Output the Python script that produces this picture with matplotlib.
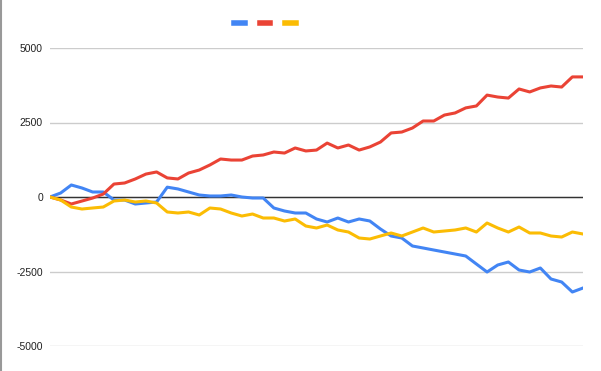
import numpy as np
import matplotlib.pyplot as plt
from matplotlib.lines import Line2D

# valores (paseos aleatorios, un punto cada ~20 pasos)
azul = [0, 134, 403, 302, 168, 168, -101, -101, -235, -201, -168, 330, 270, 168, 67, 34,
        34, 67, 0, -34, -34, -369, -470, -537, -537, -738, -839, -705, -839, -738, -805,
        -1074, -1309, -1376, -1644, -1711, -1779, -1846, -1913, -1980, -2249, -2517, -2282,
        -2181, -2450, -2517, -2383, -2752, -2853, -3188, -3054]
rojo = [0, -100, -235, -135, -35, 100, 435, 470, 605, 770, 840, 640, 605, 805, 905, 1075,
        1275, 1240, 1240, 1375, 1410, 1510, 1475, 1645, 1545, 1575, 1810, 1645, 1745, 1575,
        1680, 1845, 2150, 2180, 2315, 2550, 2550, 2750, 2820, 2990, 3055, 3420, 3355, 3320,
        3625, 3525, 3660, 3725, 3690, 4030, 4030]
amarillo = [0, -101, -336, -403, -369, -336, -134, -101, -168, -134, -201, -503, -537, -503,
            -604, -369, -403, -537, -638, -571, -705, -705, -806, -738, -974, -1040, -940,
            -1107, -1175, -1376, -1410, -1309, -1208, -1309, -1175, -1040, -1175, -1141,
            -1107, -1040, -1175, -873, -1040, -1175, -1007, -1208, -1208, -1309, -1343,
            -1175, -1242]
ticks_y = [-5000, -2500, 0, 2500, 5000]

colores = ['#4285f4', '#ea4335', '#fbbc04']

plt.rcParams['font.family'] = ['Liberation Sans', 'DejaVu Sans']

fig = plt.figure(figsize=(6.01, 3.71), dpi=100)
ax = fig.add_axes([50 / 601, 25 / 371, 533 / 601, 298 / 371])

x = np.arange(len(rojo))
lineas = []
for serie, c in zip([azul, rojo, amarillo], colores):
    l, = ax.plot(x, serie, color=c, lw=2.2, solid_joinstyle='round')
    lineas.append(l)

ax.set_xlim(0, len(rojo) - 1)
ax.set_ylim(-5000, 5000)
ax.set_yticks(ticks_y)
ax.set_yticklabels([str(t) for t in ticks_y], fontsize=7.5, color='#222222')
ax.set_xticks([])
ax.tick_params(axis='y', length=0, pad=5)
ax.grid(axis='y', color='#cccccc', lw=1)
ax.axhline(0, color='#333333', lw=1, zorder=1.5)
ax.set_axisbelow(True)
for s in ax.spines.values():
    s.set_visible(False)

# leyenda solo con las muestras de color
handles = [Line2D([], [], color=c, lw=4) for c in colores]
fig.legend(handles, ['', '', ''], loc='center', bbox_to_anchor=(265 / 601, 1 - 24 / 371),
           ncol=3, frameon=False, handlelength=0.75, handletextpad=0, columnspacing=1.1,
           fontsize=10)

# borde gris a la izquierda
fig.add_artist(Line2D([0.001, 0.001], [0, 1], color='#999999', lw=1.5))

fig.savefig('out.png', dpi=100)
